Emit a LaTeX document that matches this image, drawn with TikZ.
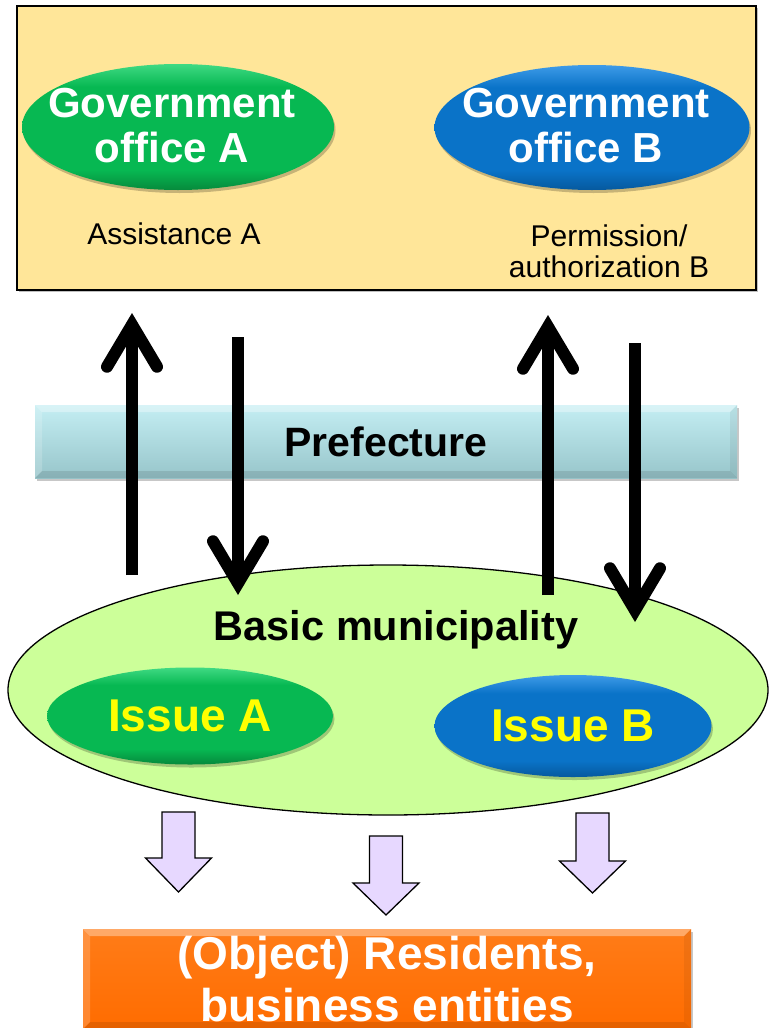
\documentclass[tikz,border=0pt]{standalone}
\usepackage{fontspec}
\setmainfont{Liberation Sans}
\usetikzlibrary{shapes.geometric,arrows.meta,shadows,calc}

\definecolor{panelfill}{HTML}{FFE699}
\definecolor{greenTop}{HTML}{3FDA83}
\definecolor{greenMid}{HTML}{07B852}
\definecolor{greenBot}{HTML}{068A3C}
\definecolor{blueTop}{HTML}{3E9BE8}
\definecolor{blueMid}{HTML}{0A73C8}
\definecolor{blueBot}{HTML}{06599E}
\definecolor{prefTop}{HTML}{C4EEF3}
\definecolor{prefBot}{HTML}{97C5CA}
\definecolor{muniFill}{HTML}{CCFF99}
\definecolor{lavFill}{HTML}{E7D8FF}
\definecolor{orangeTop}{HTML}{FF7C18}
\definecolor{orangeBot}{HTML}{FF6C00}
\definecolor{issueText}{HTML}{FFFF00}

% glossy fills: flat body, light rim on top, darker rim below
\pgfdeclareverticalshading{glossgreen}{100bp}{color(0bp)=(greenBot); color(25bp)=(greenBot);
  color(33bp)=(greenMid); color(66bp)=(greenMid); color(75bp)=(greenTop); color(100bp)=(greenTop)}
\pgfdeclareverticalshading{glossblue}{100bp}{color(0bp)=(blueBot); color(25bp)=(blueBot);
  color(33bp)=(blueMid); color(66bp)=(blueMid); color(75bp)=(blueTop); color(100bp)=(blueTop)}

\tikzset{
  every node/.style={inner sep=0pt, outer sep=0pt},
  softshadow/.style={drop shadow={shadow xshift=1.5pt, shadow yshift=-3pt, opacity=0.22, fill=black}},
  bevel/.style={path picture={
    \fill[white,opacity=0.35]
      (path picture bounding box.north west) -- (path picture bounding box.north east)
      -- ++(-7pt,-7pt) -- ($(path picture bounding box.north west)+(7pt,-7pt)$) -- cycle;
    \fill[white,opacity=0.18]
      (path picture bounding box.north west) -- ($(path picture bounding box.north west)+(7pt,-7pt)$)
      -- ($(path picture bounding box.south west)+(7pt,7pt)$) -- (path picture bounding box.south west) -- cycle;
    \fill[black,opacity=0.10]
      (path picture bounding box.south west) -- (path picture bounding box.south east)
      -- ++(-7pt,7pt) -- ($(path picture bounding box.south west)+(7pt,7pt)$) -- cycle;
    \fill[black,opacity=0.06]
      (path picture bounding box.north east) -- ($(path picture bounding box.north east)+(-7pt,-7pt)$)
      -- ($(path picture bounding box.south east)+(-7pt,7pt)$) -- (path picture bounding box.south east) -- cycle;
  }},
  panel/.style={rectangle, draw=black, line width=1.4pt, fill=panelfill,
    drop shadow={shadow xshift=2pt, shadow yshift=-2pt, opacity=0.25, fill=black}},
  officegreen/.style={ellipse, softshadow, shading=glossgreen},
  officeblue/.style={ellipse, softshadow, shading=glossblue},
  officetext/.style={text=white, align=center, font=\fontsize{42}{45}\selectfont\bfseries},
  smalltext/.style={text=black, align=center, font=\fontsize{30}{31}\selectfont},
  prefbar/.style={rectangle, top color=prefTop, bottom color=prefBot, bevel, softshadow,
    font=\fontsize{41}{44}\selectfont\bfseries, text=black},
  muni/.style={ellipse, draw=black, line width=1.3pt, fill=muniFill},
  munitext/.style={font=\fontsize{41.5}{44}\selectfont\bfseries, text=black},
  issuetext/.style={text=issueText, font=\fontsize{46}{48}\selectfont\bfseries},
  objbox/.style={rectangle, top color=orangeTop, bottom color=orangeBot, bevel, softshadow,
    text=white, align=center, font=\fontsize{46}{52}\selectfont\bfseries},
  bigarrow/.style={line width=12pt, black,
    -{Straight Barb[length=42pt, width=50pt, line cap=round, line join=miter]}},
  lavstyle/.style={draw=black, line width=1.3pt, fill=lavFill, line join=miter},
  pics/lavarrow/.style 2 args={code={
    \draw[lavstyle] (-16.5,0) -- (16.5,0) -- (16.5,#1) -- (33,#1) -- (0,#2)
      -- (-33,#1) -- (-16.5,#1) -- cycle;
  }},
}

\begin{document}
\begin{tikzpicture}[x=1pt, y=-1pt]
  \useasboundingbox[fill=white] (0,0) rectangle (769,1028);

  % upper panel with the two government offices
  \node[panel, minimum width=739pt, minimum height=284pt] (panel) at (386.5,148) {};
  \node[officegreen, minimum width=312pt, minimum height=126pt] (offA) at (178,127) {};
  \node[officetext] (offAtext) at (172,126) {Government\\office A};
  \node[officeblue, minimum width=315pt, minimum height=125pt] (offB) at (592,127.5) {};
  \node[officetext] (offBtext) at (586,126) {Government\\office B};
  \node[smalltext] (assistA) at (174,234) {Assistance A};
  \node[smalltext] (permB) at (609,251.5) {Permission/\\authorization B};

  % prefecture bar
  \node[prefbar, minimum width=702pt, minimum height=73pt] (pref) at (386,441.5) {Prefecture};

  % basic municipality with its issues
  \node[muni, minimum width=760pt, minimum height=250pt] (muni) at (388,690) {};
  \node[munitext] (munitext) at (396,630) {Basic municipality};
  \node[officegreen, minimum width=286pt, minimum height=97pt] (issA) at (190,716)
    {\color{issueText}\fontsize{46}{48}\selectfont\bfseries Issue A};
  \node[officeblue, minimum width=277pt, minimum height=102pt] (issB) at (573,726)
    {\color{issueText}\fontsize{46}{48}\selectfont\bfseries Issue B};

  % vertical flows between the levels
  \coordinate (upAs) at (132,575);
  \coordinate (upAe) at (132,313);
  \coordinate (dnAs) at (238,337);
  \coordinate (dnAe) at (238,595);
  \coordinate (upBs) at (548,595);
  \coordinate (upBe) at (548,315);
  \coordinate (dnBs) at (635,343);
  \coordinate (dnBe) at (635,622);
  \draw[bigarrow] (upAs) -- (upAe);
  \draw[bigarrow] (dnAs) -- (dnAe);
  \draw[bigarrow] (upBs) -- (upBe);
  \draw[bigarrow] (dnBs) -- (dnBe);

  % block arrows down to the residents
  \pic (lavL) at (178.5,812) {lavarrow={46}{80}};
  \pic (lavM) at (386,836) {lavarrow={47}{79}};
  \pic (lavR) at (592.5,813) {lavarrow={48}{80}};

  % target group
  \node[objbox, minimum width=608pt, minimum height=100pt] (obj) at (387,979)
    {(Object) Residents,\\business entities};
\end{tikzpicture}
\end{document}
